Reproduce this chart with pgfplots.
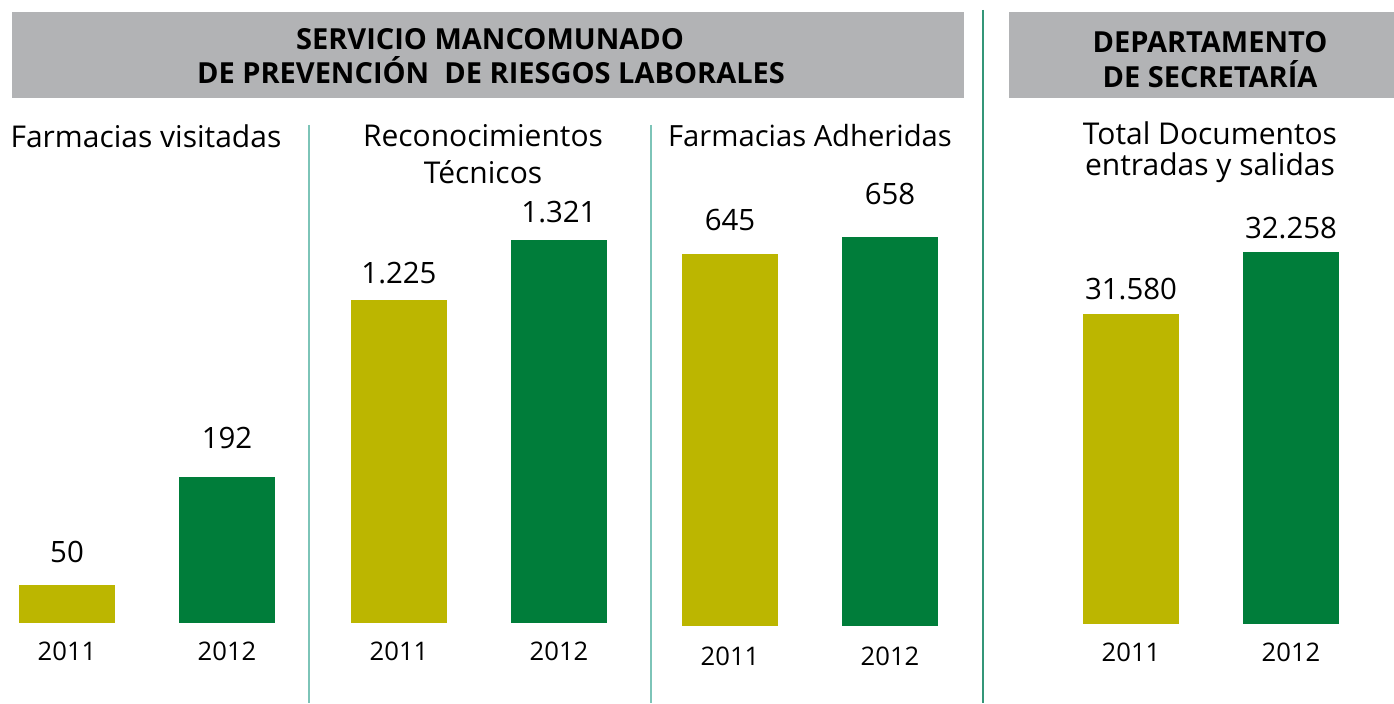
\documentclass[border=0pt]{standalone}
\usepackage{pgfplots}
\pgfplotsset{compat=1.18}
\usepackage{fontspec}
\setmainfont{Open Sans}
\definecolor{barolive}{RGB}{188,182,0}
\definecolor{bargreen}{RGB}{0,125,58}
\definecolor{headgray}{RGB}{178,179,181}
\definecolor{lightteal}{RGB}{125,196,184}
\definecolor{darkteal}{RGB}{52,150,120}
\pgfplotsset{panel/.style={
  scale only axis, width=128pt, height=225pt,
  xmin=-0.3, xmax=1.3,
  ybar, bar width=48pt,
  axis line style={draw=none}, major tick length=0pt,
  ytick=\empty, xtick={0,1}, xticklabels={2011,2012},
  xticklabel style={font=\fontsize{12.8}{14}\selectfont, anchor=base, yshift=-18.5pt, inner sep=0pt},
  nodes near coords,
  nodes near coords style={font=\fontsize{14.7}{16}\selectfont, anchor=base, inner sep=0pt},
  /pgf/number format/fixed, /pgf/number format/precision=0,
  /pgf/number format/1000 sep={.}, /pgf/number format/assume math mode=true,
  clip=true,
}}
\begin{document}
\begin{tikzpicture}
\useasboundingbox (0,0) rectangle (697pt,351.5pt);
% headers
\fill[headgray] (6pt,302.5pt) rectangle (482pt,345.5pt);
\fill[headgray] (504.5pt,302.5pt) rectangle (700pt,345.5pt);
\node[font=\bfseries\fontsize{14.5}{16}\selectfont, anchor=base, inner sep=0pt] at (245pt,326.5pt) {SERVICIO MANCOMUNADO};
\node[font=\bfseries\fontsize{14.5}{16}\selectfont, anchor=base, inner sep=0pt] at (245.5pt,309.5pt) {DE PREVENCIÓN\ \ DE RIESGOS LABORALES};
\node[font=\bfseries\fontsize{14.5}{16}\selectfont, anchor=base, inner sep=0pt] at (605pt,325pt) {DEPARTAMENTO};
\node[font=\bfseries\fontsize{14.5}{16}\selectfont, anchor=base, inner sep=0pt] at (605pt,307.5pt) {DE SECRETARÍA};
% separators
\draw[lightteal, line width=1pt] (154.5pt,289pt) -- (154.5pt,0pt);
\draw[lightteal, line width=1pt] (325.5pt,289pt) -- (325.5pt,0pt);
\draw[darkteal, line width=1pt] (491.5pt,346.5pt) -- (491.5pt,0pt);
% panel titles
\node[font=\fontsize{15}{16}\selectfont, anchor=base, inner sep=0pt] at (73pt,277.5pt) {Farmacias visitadas};
\node[font=\fontsize{15}{16}\selectfont, anchor=base, inner sep=0pt] at (241.5pt,278pt) {Reconocimientos};
\node[font=\fontsize{15}{16}\selectfont, anchor=base, inner sep=0pt] at (241.5pt,259.5pt) {Técnicos};
\node[font=\fontsize{14.6}{16}\selectfont, anchor=base, inner sep=0pt] at (405pt,278pt) {Farmacias Adheridas};
\node[font=\fontsize{15}{16}\selectfont, anchor=base, inner sep=0pt] at (605pt,279pt) {Total Documentos};
\node[font=\fontsize{15}{16}\selectfont, anchor=base, inner sep=0pt] at (605pt,263.5pt) {entradas y salidas};
% panel 1
\begin{axis}[panel, at={(9.5pt,40pt)}, anchor=south west, ymin=0, ymax=590]
\addplot[fill=barolive, draw=none, bar shift=0pt, every node near coord/.append style={yshift=11pt}] coordinates {(0,50)};
\addplot[fill=bargreen, draw=none, bar shift=0pt, every node near coord/.append style={yshift=14pt}] coordinates {(1,192)};
\end{axis}
% panel 2
\begin{axis}[panel, at={(175.5pt,40pt)}, anchor=south west, ymin=708.2, ymax=1428.2]
\addplot[fill=barolive, draw=none, bar shift=0pt, every node near coord/.append style={yshift=8pt}] coordinates {(0,1225)};
\addplot[fill=bargreen, draw=none, bar shift=0pt, every node near coord/.append style={yshift=8.5pt}] coordinates {(1,1321)};
\end{axis}
% panel 3
\begin{axis}[panel, at={(341pt,38.5pt)}, anchor=south west, ymin=360.5, ymax=704.6, xticklabel style={yshift=-1pt}]
\addplot[fill=barolive, draw=none, bar shift=0pt, every node near coord/.append style={yshift=11.5pt}] coordinates {(0,645)};
\addplot[fill=bargreen, draw=none, bar shift=0pt, every node near coord/.append style={yshift=16pt}] coordinates {(1,658)};
\end{axis}
% panel 4
\begin{axis}[panel, at={(541.5pt,39.5pt)}, anchor=south west, ymin=28190, ymax=33111]
\addplot[fill=barolive, draw=none, bar shift=0pt, every node near coord/.append style={yshift=7pt}] coordinates {(0,31580)};
\addplot[fill=bargreen, draw=none, bar shift=0pt, every node near coord/.append style={yshift=6.5pt}] coordinates {(1,32258)};
\end{axis}
\end{tikzpicture}
\end{document}
